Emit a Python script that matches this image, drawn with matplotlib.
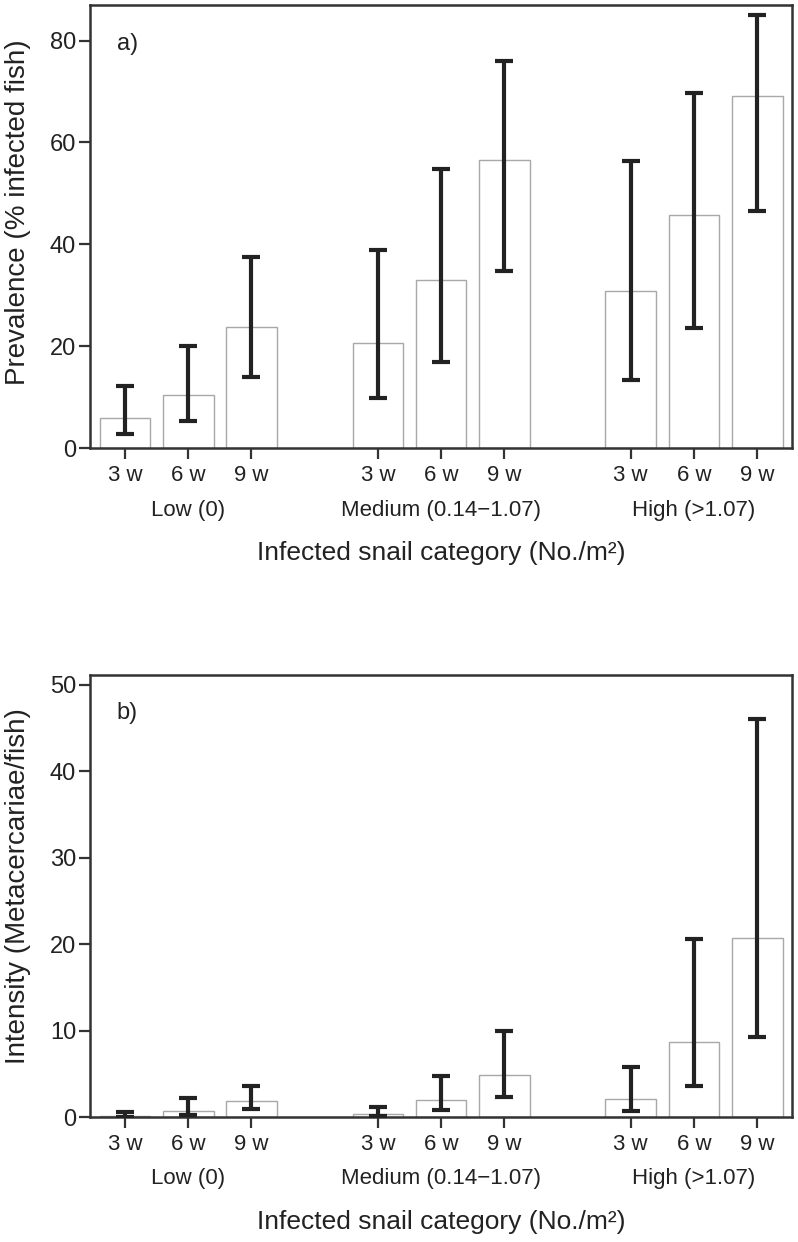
import numpy as np
import matplotlib
matplotlib.use("Agg")
import matplotlib.pyplot as plt

# ── Datos ────────────────────────────────────────────────────
semanas = ["3 w", "6 w", "9 w"]
categorias = ["Low (0)", "Medium (0.14\u22121.07)", "High (>1.07)"]

# Prevalencia (% peces infectados): valor, límite inferior, límite superior
prev = [5.8, 10.5, 23.8, 20.7, 32.9, 56.6, 30.8, 45.7, 69.1]
prev_lo = [2.75, 5.3, 14.0, 9.8, 16.8, 34.8, 13.4, 23.5, 46.6]
prev_hi = [12.2, 20.0, 37.5, 38.8, 54.7, 76.1, 56.4, 69.7, 85.1]

# Intensidad (metacercarias/pez)
inten = [0.12, 0.74, 1.85, 0.38, 2.0, 4.82, 2.08, 8.7, 20.7]
inten_lo = [0.0, 0.2, 0.89, 0.15, 0.77, 2.31, 0.74, 3.6, 9.3]
inten_hi = [0.54, 2.15, 3.63, 1.12, 4.74, 9.98, 5.83, 20.6, 46.1]

pos = [0, 1, 2, 4, 5, 6, 8, 9, 10]

fuente = ["Liberation Sans", "DejaVu Sans"]
gris = "#222222"

fig = plt.figure(figsize=(7.98, 12.42), dpi=100)


def panel(rect, valores, lo, hi, ymax, yticks, ylabel, ylabel_y, letra):
    ax = fig.add_axes(rect)
    ax.bar(pos, valores, width=0.8, color="white", edgecolor="#a8a8a8", linewidth=1.0, zorder=2)
    err = [np.array(valores) - np.array(lo), np.array(hi) - np.array(valores)]
    ax.errorbar(pos, valores, yerr=err, fmt="none", ecolor=gris,
                elinewidth=3, capsize=6.5, capthick=3, zorder=3)
    ax.set_xlim(-0.554, 10.55)
    ax.set_ylim(0, ymax)
    ax.set_yticks(yticks)
    ax.set_yticklabels([str(t) for t in yticks], family=fuente, fontsize=17, color=gris)
    ax.set_xticks(pos)
    ax.set_xticklabels(semanas * 3, family=fuente, fontsize=16, color=gris)
    ax.tick_params(axis="both", direction="out", length=8, width=1.6, color="#333333")
    ax.tick_params(axis="x", pad=4)
    ax.tick_params(axis="y", pad=2)
    for s in ax.spines.values():
        s.set_color("#333333")
        s.set_linewidth(1.8)
    ax.set_ylabel(ylabel, family=fuente, fontsize=20, color=gris, va="center")
    ax.yaxis.set_label_coords(-0.102, ylabel_y)
    ax.text(0.038, 0.913, letra, transform=ax.transAxes, family=fuente,
            fontsize=17, color=gris, va="center")
    # etiquetas de categoría debajo de las semanas
    for i, cat in enumerate(categorias):
        ax.annotate(cat, xy=(pos[3 * i + 1], -0.14), xycoords=("data", "axes fraction"),
                    ha="center", va="center", family=fuente, fontsize=16,
                    color=gris, annotation_clip=False)
    ax.text(0.5, -0.237, "Infected snail category (No./m\u00b2)", transform=ax.transAxes,
            ha="center", va="center", family=fuente, fontsize=19, color=gris)
    return ax


panel([90 / 798, (1242 - 448) / 1242, 702 / 798, 443 / 1242],
      prev, prev_lo, prev_hi, 87.0, [0, 20, 40, 60, 80],
      "Prevalence (% infected fish)", 0.533, "a)")
panel([90 / 798, (1242 - 1117) / 1242, 702 / 798, 442.5 / 1242],
      inten, inten_lo, inten_hi, 51.2, [0, 10, 20, 30, 40, 50],
      "Intensity (Metacercariae/fish)", 0.523, "b)")

fig.savefig("out.png", dpi=100)
